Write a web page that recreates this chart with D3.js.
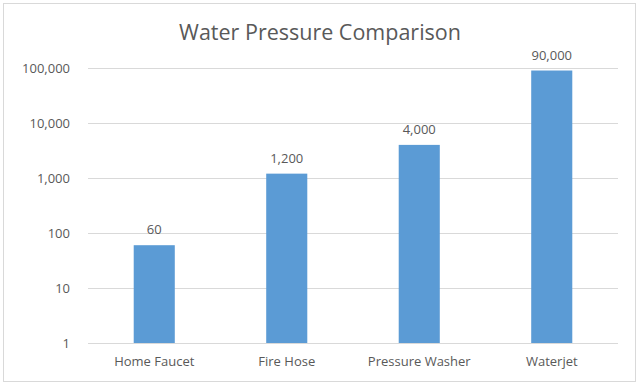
<!DOCTYPE html>
<html><head><meta charset="utf-8">
<script src="https://cdn.jsdelivr.net/npm/d3@7"></script>
<style>body{margin:0;background:#fff}svg{display:block}text{font-family:"Open Sans",sans-serif;fill:#595959}</style>
</head><body>
<svg id="c" width="640" height="386"></svg>
<script>
const categories = ["Home Faucet", "Fire Hose", "Pressure Washer", "Waterjet"];
const values = [60, 1200, 4000, 90000];
const tickValues = [1, 10, 100, 1000, 10000, 100000];
const title = "Water Pressure Comparison";

const svg = d3.select("#c");
svg.append("rect").attr("x",3.5).attr("y",3.5).attr("width",632).attr("height",378)
  .attr("fill","#fff").attr("stroke","#d9d9d9");
const m = {left:88, right:618, top:68, bottom:343};
const x = d3.scaleBand().domain(categories).range([m.left, m.right]).paddingInner(0.69).paddingOuter(0.345);
const y = d3.scaleLog().domain([1, 100000]).range([m.bottom, m.top]);
const fmt = d3.format(",");

svg.append("text").attr("x",320).attr("y",40).attr("text-anchor","middle")
  .style("font-size","21.5px").text(title);

const ya = d3.axisLeft(y).tickValues(tickValues).tickFormat(fmt).tickSize(-(m.right-m.left)).tickPadding(18);
const g = svg.append("g").attr("transform",`translate(${m.left},0)`).call(ya);
g.select(".domain").remove();
g.selectAll(".tick line").attr("stroke","#d9d9d9");
g.selectAll(".tick text").style("font-size","13px").style("font-family","'Open Sans',sans-serif").attr("fill","#595959");

svg.selectAll("rect.bar").data(values).enter().append("rect").attr("class","bar")
  .attr("x",(d,i)=>x(categories[i])).attr("width",x.bandwidth())
  .attr("y",d=>y(d)).attr("height",d=>m.bottom-y(d)).attr("fill","#5b9bd5");

svg.selectAll("text.val").data(values).enter().append("text").attr("class","val")
  .attr("x",(d,i)=>x(categories[i])+x.bandwidth()/2).attr("y",d=>y(d)-11)
  .attr("text-anchor","middle").style("font-size","13px").text(d=>fmt(d));

const xa = d3.axisBottom(x).tickSize(0).tickPadding(14);
const gx = svg.append("g").attr("transform",`translate(0,${m.bottom})`).call(xa);
gx.select(".domain").remove();
gx.selectAll(".tick text").style("font-size","13px").style("font-family","'Open Sans',sans-serif").attr("fill","#595959");
</script>
</body></html>
